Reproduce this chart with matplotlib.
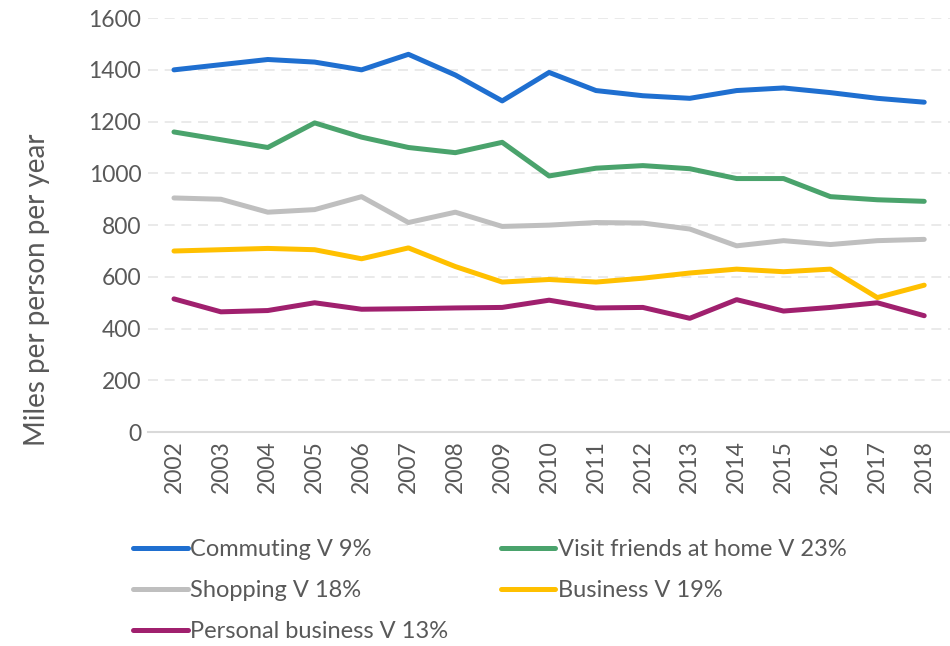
import matplotlib.pyplot as plt

plt.rcParams['font.family'] = ['Lato', 'DejaVu Sans']

anos = list(range(2002, 2019))

commuting = [1400, 1420, 1440, 1430, 1400, 1460, 1380, 1280, 1390, 1320, 1300, 1290, 1320, 1330, 1312, 1290, 1275]
visit_friends = [1160, 1130, 1100, 1195, 1140, 1100, 1080, 1120, 990, 1020, 1030, 1018, 980, 980, 910, 898, 892]
shopping = [905, 900, 850, 860, 910, 810, 850, 795, 800, 810, 808, 785, 720, 740, 725, 740, 745]
business = [700, 705, 710, 705, 670, 712, 640, 580, 590, 580, 595, 615, 630, 620, 630, 520, 568]
personal = [515, 465, 470, 500, 475, 477, 480, 482, 510, 480, 482, 440, 512, 468, 482, 500, 450]

series = [
    ("Commuting V 9%", commuting, "#1f6fd0"),
    ("Visit friends at home V 23%", visit_friends, "#4aa36c"),
    ("Shopping V 18%", shopping, "#bfbfbf"),
    ("Business V 19%", business, "#ffc000"),
    ("Personal business V 13%", personal, "#a0206e"),
]

texto = "#595959"

fig = plt.figure(figsize=(9.5, 6.46), dpi=100)
ax = fig.add_axes([0.156, 0.331, 0.844, 0.641])

linhas = []
for nome, valores, cor in series:
    l, = ax.plot(anos, valores, color=cor, linewidth=3.6, label=nome, solid_capstyle='round')
    linhas.append(l)

ax.set_ylim(0, 1600)
ax.set_xlim(2001.45, 2018.55)
ax.set_yticks(range(0, 1601, 200))
ax.set_xticks(anos)
ax.set_xticklabels([str(a) for a in anos], rotation=90)
ax.tick_params(axis='both', length=0, labelsize=16.5, colors=texto)
ax.tick_params(axis='x', pad=6)
ax.tick_params(axis='y', pad=5)

ax.grid(axis='y', color='#e6e6e6', linestyle=(0, (6, 4)), linewidth=1.2)
ax.set_axisbelow(True)
for lado in ['top', 'right', 'left']:
    ax.spines[lado].set_visible(False)
ax.spines['bottom'].set_color('#d9d9d9')
ax.spines['bottom'].set_linewidth(1.5)

ax.set_ylabel('Miles per person per year', fontsize=20, color=texto)
ax.yaxis.set_label_coords(-0.122, 0.343)

# ordem para preencher por linhas com ncol=2
ordem = [0, 2, 4, 1, 3]
fig.legend([linhas[i] for i in ordem], [series[i][0] for i in ordem],
           loc='upper left', bbox_to_anchor=(0.118, 0.198), ncol=2, frameon=False,
           fontsize=17, labelcolor=texto, handlelength=2.3, handletextpad=0.12,
           columnspacing=2.2, labelspacing=0.85)

fig.savefig('out.png', dpi=100)
